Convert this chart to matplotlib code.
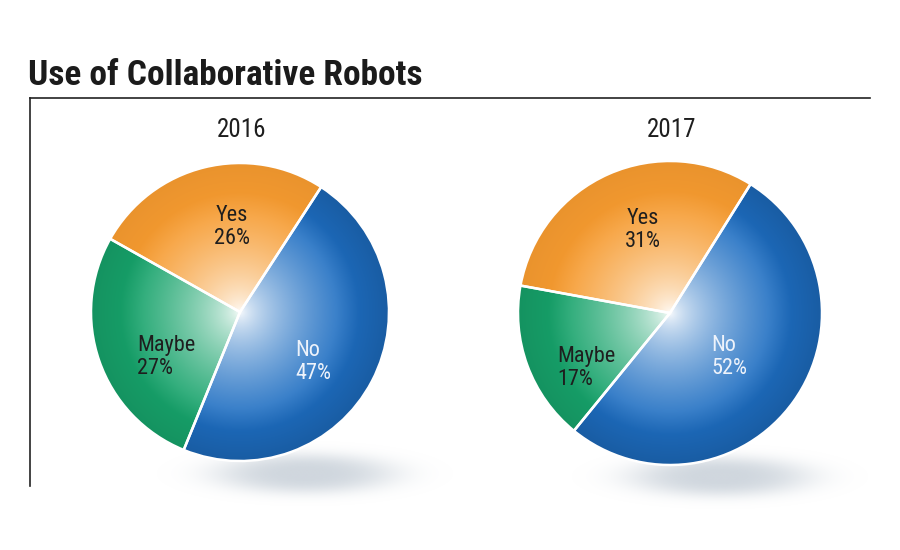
import matplotlib
matplotlib.use("Agg")
import matplotlib.pyplot as plt
import numpy as np
from matplotlib.colors import to_rgb

# survey answers, percent of respondents
labels = ["Yes", "Maybe", "No"]
share_2016 = [26, 27, 47]
share_2017 = [31, 17, 52]
years = ["2016", "2017"]

COLORS = ["#f69b30", "#17a36b", "#1e6ec2"]
EDGE_DARK = [0.05, 0.10, 0.16]   # how much each slice darkens towards the rim
TEXT_COL = ["#1e1e1e", "#1e1e1e", "#eef3fb"]
FONT = ["Roboto Condensed", "DejaVu Sans"]

W, H = 900, 550


def yy(y_img):
    # work in image pixels, y measured from the top
    return H - y_img


def shadow(ax, cx, cy, w, h):
    n = 200
    xs = np.linspace(-1.6, 1.6, n)
    X, Y = np.meshgrid(xs, xs)
    a = np.exp(-(X ** 2 + Y ** 2) ** 1.6 * 1.4) * 0.6
    img = np.zeros((n, n, 4))
    img[..., :3] = to_rgb("#b0bcc8")
    img[..., 3] = a
    ax.imshow(img, extent=(cx - w * 0.8, cx + w * 0.8, cy - h * 0.8, cy + h * 0.8),
              origin="lower", zorder=1, interpolation="bilinear")


def pie(ax, values, cx, cy, R, start, year, label_pos):
    wedges, _ = ax.pie(values, colors=COLORS, startangle=start, counterclock=True,
                       center=(cx, cy), radius=R,
                       wedgeprops=dict(edgecolor="white", linewidth=1.8, zorder=3))
    n = 500
    xs = np.linspace(cx - R, cx + R, n)
    ys = np.linspace(cy - R, cy + R, n)
    X, Y = np.meshgrid(xs, ys)
    r = np.hypot(X - cx, Y - cy) / R
    for w, c, dk in zip(wedges, COLORS, EDGE_DARK):
        base = np.array(to_rgb(c))
        t = np.clip(r / 0.8, 0, 1) ** 0.65
        rgb = (1 - t)[..., None] + base * t[..., None]
        rgb = rgb * (1 - dk * np.clip((r - 0.65) / 0.35, 0, 1))[..., None]
        im = ax.imshow(np.clip(rgb, 0, 1), extent=(cx - R, cx + R, cy - R, cy + R),
                       origin="lower", zorder=2, interpolation="bilinear")
        im.set_clip_path(w)
        w.set_facecolor("none")

    ax.text(cx + 2, yy(130), year, ha="center", va="center", fontsize=18,
            family=FONT, color="#1e1e1e")
    for lab, v, (x, y, ha), col in zip(labels, values, label_pos, TEXT_COL):
        ax.text(x, yy(y), f"{lab}\n{v}%", ha=ha, va="center", fontsize=16,
                family=FONT, color=col, linespacing=1.1, zorder=5)


fig = plt.figure(figsize=(9, 5.5), dpi=100)
ax = fig.add_axes([0, 0, 1, 1])

shadow(ax, 305, yy(474), 200, 44)
shadow(ax, 720, yy(477), 200, 44)

pie(ax, share_2016, 240, yy(312), 149, 57, years[0],
    [(232, 227, "center"), (137, 357, "left"), (295, 362, "left")])
pie(ax, share_2017, 670, yy(313), 152, 58, years[1],
    [(643, 230, "center"), (557, 368, "left"), (711, 357, "left")])

# frame
ax.plot([30, 870], [yy(98), yy(98)], color="#222222", lw=1.2, zorder=4)
ax.plot([30, 30], [yy(98), yy(486)], color="#222222", lw=1.2, zorder=4)

ax.text(28, yy(85), "Use of Collaborative Robots", ha="left", va="baseline",
        fontsize=25.5, fontweight="bold", family=FONT, color="#1b1b1b")

ax.set_xlim(0, W)
ax.set_ylim(0, H)
ax.set_aspect("equal")
ax.axis("off")
fig.savefig("out.png", dpi=100, facecolor="white")
